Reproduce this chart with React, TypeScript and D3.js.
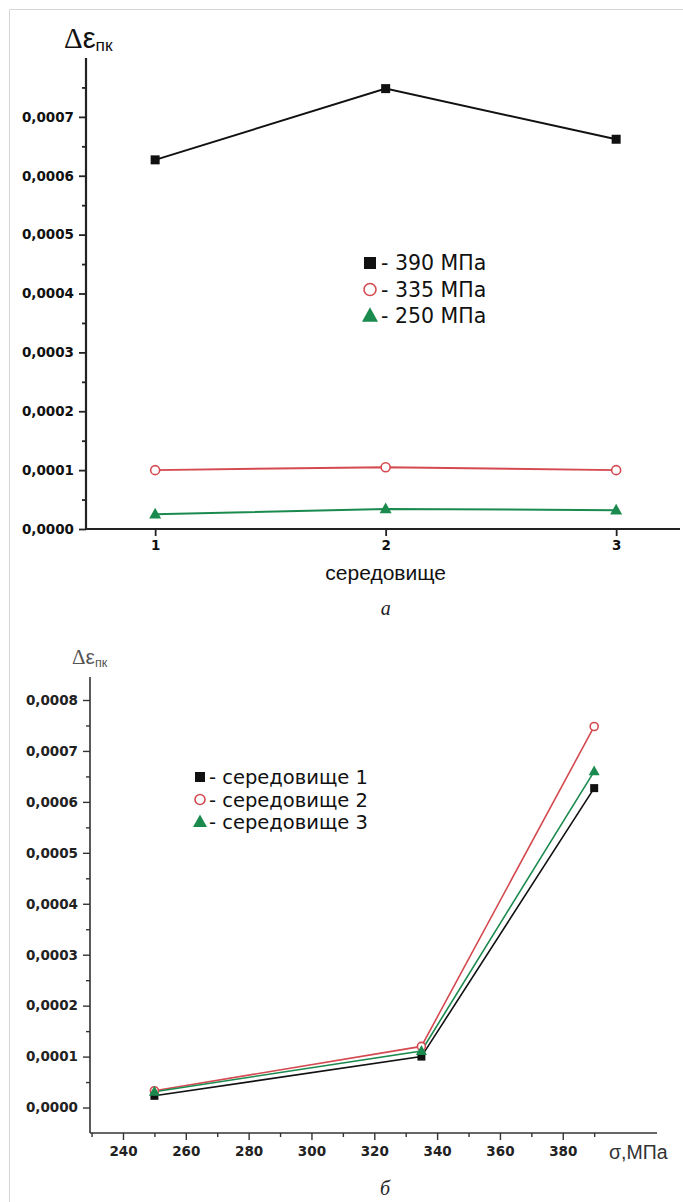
import { useEffect, useRef } from "react";
import * as d3 from "d3";

// panel a: strain increment vs environment
const ENVS = [1, 2, 3];
const S390 = [0.000627, 0.000748, 0.000662];
const S335 = [0.0001, 0.000105, 0.0001];
const S250 = [0.000025, 0.000034, 0.000032];
const TOP_LEGEND = ["- 390 МПа", "- 335 МПа", "- 250 МПа"];

// panel б: strain increment vs stress
const STRESS = [250, 335, 390];
const ENV1 = [0.000023, 0.0001, 0.000627];
const ENV2 = [0.000033, 0.00012, 0.000748];
const ENV3 = [0.000031, 0.000111, 0.00066];
const BOTTOM_LEGEND = ["- середовище 1", "- середовище 2", "- середовище 3"];

const TOP_Y_TICKS = [0, 0.0001, 0.0002, 0.0003, 0.0004, 0.0005, 0.0006, 0.0007];
const BOTTOM_Y_TICKS = [0, 0.0001, 0.0002, 0.0003, 0.0004, 0.0005, 0.0006, 0.0007, 0.0008];
const BOTTOM_X_TICKS = [240, 260, 280, 300, 320, 340, 360, 380];

const BLACK = "#111";
const RED = "#d44a50";
const GREEN = "#1b8a4e";
const SANS = "'Liberation Sans', Arial, sans-serif";
const WIDE = "'DejaVu Sans', sans-serif";

const fmt = (v: number) => d3.format(".4f")(v).replace(".", ",");

type Sel = d3.Selection<SVGGElement, unknown, null, undefined>;

function marker(g: Sel, kind: number, x: number, y: number, s: number) {
  if (kind === 0) {
    g.append("rect")
      .attr("x", x - s / 2)
      .attr("y", y - s / 2)
      .attr("width", s)
      .attr("height", s)
      .attr("fill", BLACK);
  } else if (kind === 1) {
    g.append("circle")
      .attr("cx", x)
      .attr("cy", y)
      .attr("r", s / 2)
      .attr("fill", "white")
      .attr("stroke", RED)
      .attr("stroke-width", 1.6);
  } else {
    const h = s * 0.9;
    g.append("path")
      .attr("d", `M${x},${y - h * 0.6} L${x + s / 2},${y + h * 0.4} L${x - s / 2},${y + h * 0.4} Z`)
      .attr("fill", GREEN);
  }
}

function yLabel(g: Sel, x: number, y: number, size: number, color: string) {
  const t = g.append("text").attr("x", x).attr("y", y).attr("fill", color).style("font-family", SANS);
  t.append("tspan").attr("font-size", size).style("font-family", "'Liberation Serif', serif").text("Δ");
  t.append("tspan").attr("font-size", size).text("ε");
  t.append("tspan").attr("font-size", size * 0.6).attr("dy", size * 0.12).text("пк");
}

export default function App() {
  const svgRef = useRef<SVGSVGElement>(null);

  useEffect(() => {
    if (!svgRef.current) return;
    const svg = d3.select(svgRef.current);
    svg.selectAll("*").remove();
    const root = svg.append("g") as Sel;

    // page frame
    root.append("path").attr("d", "M9.5,1202 L9.5,9.5 L683,9.5").attr("fill", "none").attr("stroke", "#d6d6d6");

    // ---------- panel a ----------
    const a = root.append("g") as Sel;
    const axA = 86;
    const x1 = d3.scaleLinear().domain([0.7, 3.277]).range([axA, 680]);
    const y1 = d3.scaleLinear().domain([0, 0.0008]).range([529, 58]);

    a.append("line").attr("x1", axA).attr("x2", axA).attr("y1", y1(0.0008)).attr("y2", y1(0)).attr("stroke", "#222").attr("stroke-width", 2.2);
    a.append("line").attr("x1", axA - 1).attr("x2", 680).attr("y1", y1(0)).attr("y2", y1(0)).attr("stroke", "#222").attr("stroke-width", 2.2);

    a.append("g").attr("transform", `translate(${axA},0)`)
      .call(d3.axisLeft(y1).tickValues(TOP_Y_TICKS).tickSize(7).tickPadding(5).tickFormat((d) => fmt(+d)))
      .select(".domain").remove();
    a.append("g").attr("transform", `translate(${axA},0)`)
      .call(d3.axisLeft(y1).tickValues(d3.range(0.00005, 0.0008, 0.0001)).tickSize(4).tickFormat(() => ""))
      .select(".domain").remove();

    a.append("g").attr("transform", `translate(0,${y1(0)})`)
      .call(d3.axisBottom(x1).tickValues(ENVS).tickSize(7).tickPadding(4).tickFormat((d) => String(d)))
      .select(".domain").remove();

    a.selectAll(".tick line").attr("stroke", "#222").attr("stroke-width", 1.8);
    a.selectAll(".tick text").attr("font-size", 13.5).attr("font-weight", "bold").attr("fill", "#111").style("font-family", WIDE);

    a.append("text").attr("x", x1(2)).attr("y", 580).attr("text-anchor", "middle")
      .attr("font-size", 21).attr("fill", "#111").style("font-family", SANS).text("середовище");
    a.append("text").attr("x", x1(2)).attr("y", 615).attr("text-anchor", "middle")
      .attr("font-size", 20).attr("font-style", "italic").attr("fill", "#222").style("font-family", "'Liberation Serif', serif").text("a");

    yLabel(a, 64, 48, 29, "#111");

    const topSeries = [S390, S335, S250];
    const colors = [BLACK, RED, GREEN];
    const lineA = d3.line<number>().x((_, i) => x1(ENVS[i])).y((d) => y1(d));
    topSeries.forEach((s, k) => {
      a.append("path").attr("d", lineA(s)).attr("fill", "none").attr("stroke", colors[k]).attr("stroke-width", 2);
    });
    topSeries.forEach((s, k) => {
      s.forEach((v, i) => marker(a, k, x1(ENVS[i]), y1(v), k === 2 ? 12 : 9));
    });

    TOP_LEGEND.forEach((t, k) => {
      const yy = 263 + k * 26.5;
      marker(a, k, 370, yy, k === 2 ? 16 : 12);
      a.append("text").attr("x", 381).attr("y", yy + 7).attr("font-size", 20.5).attr("fill", "#111")
        .style("font-family", WIDE).text(t);
    });

    // ---------- panel б ----------
    const b = root.append("g") as Sel;
    const axB = 90;
    const x2 = d3.scaleLinear().domain([229.5, 410]).range([axB, 657]);
    const y2 = d3.scaleLinear().domain([-0.00005, 0.0008]).range([1133, 700]);
    const yTopB = y2(0.000845);

    b.append("line").attr("x1", axB).attr("x2", axB).attr("y1", yTopB).attr("y2", y2(-0.00005)).attr("stroke", "#333").attr("stroke-width", 1.6);
    b.append("line").attr("x1", axB).attr("x2", 657).attr("y1", y2(-0.00005)).attr("y2", y2(-0.00005)).attr("stroke", "#333").attr("stroke-width", 1.6);

    b.append("g").attr("transform", `translate(${axB},0)`)
      .call(d3.axisLeft(y2).tickValues(BOTTOM_Y_TICKS).tickSize(7).tickPadding(5).tickFormat((d) => fmt(+d)))
      .select(".domain").remove();
    b.append("g").attr("transform", `translate(${axB},0)`)
      .call(d3.axisLeft(y2).tickValues(d3.range(0.00005, 0.0008, 0.0001)).tickSize(4).tickFormat(() => ""))
      .select(".domain").remove();

    b.append("g").attr("transform", `translate(0,${y2(-0.00005)})`)
      .call(d3.axisBottom(x2).tickValues(BOTTOM_X_TICKS).tickSize(7).tickPadding(6).tickFormat((d) => String(d)))
      .select(".domain").remove();
    b.append("g").attr("transform", `translate(0,${y2(-0.00005)})`)
      .call(d3.axisBottom(x2).tickValues(d3.range(230, 400, 20)).tickSize(4).tickFormat(() => ""))
      .select(".domain").remove();

    b.selectAll(".tick line").attr("stroke", "#333").attr("stroke-width", 1.4);
    b.selectAll(".tick text").attr("font-size", 13.5).attr("font-weight", "bold").attr("fill", "#222").style("font-family", WIDE);

    b.append("text").attr("x", 609).attr("y", 1159).attr("font-size", 19.5).attr("fill", "#333")
      .style("font-family", SANS).text("σ,МПа");
    b.append("text").attr("x", 385).attr("y", 1195).attr("text-anchor", "middle")
      .attr("font-size", 20).attr("font-style", "italic").attr("fill", "#222").style("font-family", "'Liberation Serif', serif").text("б");

    yLabel(b, 72, 664, 21, "#555");

    const botSeries = [ENV1, ENV2, ENV3];
    const lineB = d3.line<number>().x((_, i) => x2(STRESS[i])).y((d) => y2(d));
    botSeries.forEach((s, k) => {
      b.append("path").attr("d", lineB(s)).attr("fill", "none").attr("stroke", colors[k]).attr("stroke-width", 1.6);
    });
    botSeries.forEach((s, k) => {
      s.forEach((v, i) => marker(b, k, x2(STRESS[i]), y2(v), k === 2 ? 11 : 8));
    });

    BOTTOM_LEGEND.forEach((t, k) => {
      const yy = 777 + k * 22.5;
      marker(b, k, 200, yy, k === 2 ? 14 : 10);
      b.append("text").attr("x", 209).attr("y", yy + 7).attr("font-size", 19.5).attr("fill", "#111")
        .style("font-family", WIDE).text(t);
    });
  }, []);

  return (
    <div style={{ position: "absolute", left: 0, top: 0, width: 683, height: 1202, background: "white" }}>
      <svg ref={svgRef} width={683} height={1202} style={{ display: "block" }} />
    </div>
  );
}
